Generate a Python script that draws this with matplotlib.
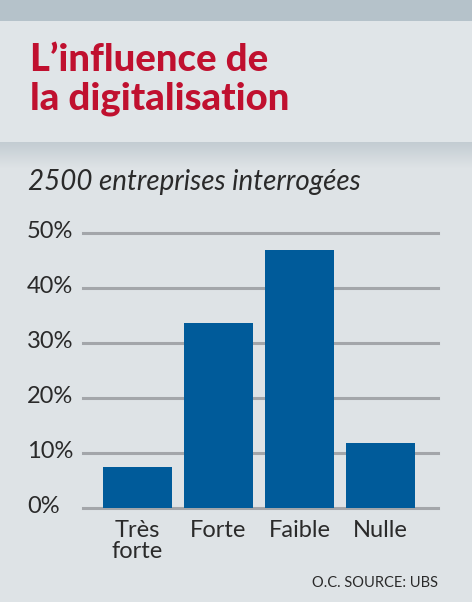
import matplotlib
matplotlib.use("Agg")
import matplotlib.pyplot as plt
import numpy as np
from matplotlib.patches import Rectangle
import matplotlib.transforms as mtransforms

categories = ["Très\nforte", "Forte", "Faible", "Nulle"]
values = [7.4, 33.6, 46.8, 11.8]
yticks = [0, 10, 20, 30, 40, 50]
ytick_labels = ["0%", "10%", "20%", "30%", "40%", "50%"]
title_lines = ["L’influence de", "la digitalisation"]
subtitle = "2500 entreprises interrogées"
source = "O.C. SOURCE: UBS"

W, H = 472, 602
BG = "#dee3e6"
BAR = "#005b9a"
RED = "#c0102f"
TXT = "#2a2a2a"

fig = plt.figure(figsize=(W / 100, H / 100), dpi=100)
fig.patch.set_facecolor(BG)

def fy(px):
    return 1 - px / H

# top strip and title box
fig.patches.append(Rectangle((0, fy(21)), 1, 21 / H, transform=fig.transFigure,
                             facecolor="#b5c2ca", edgecolor="none", zorder=0))
fig.patches.append(Rectangle((0, fy(142)), 1, (142 - 21) / H, transform=fig.transFigure,
                             facecolor="#e0e5e8", edgecolor="none", zorder=0))
# shadow gradient below title box
gax = fig.add_axes([0, fy(168), 1, 26 / H])
grad = np.linspace(0, 1, 64).reshape(-1, 1)
c0 = np.array([0xc3, 0xcc, 0xd2]) / 255
c1 = np.array([0xde, 0xe3, 0xe6]) / 255
img = c0[None, None, :] * (1 - grad[:, :, None]) + c1[None, None, :] * grad[:, :, None]
gax.imshow(img, aspect="auto", extent=[0, 1, 0, 1])
gax.axis("off")

for line, base in zip(title_lines, [71, 110]):
    fig.text(30 / W, fy(base), line, color=RED, fontsize=27.5, fontweight="black",
             family="Lato", ha="left", va="baseline")
fig.text(28 / W, fy(190), subtitle, color=TXT, fontsize=20, style="italic",
         family="Lato", fontweight="normal", ha="left", va="baseline")

ax = fig.add_axes([83 / W, fy(507.7), (438 - 83) / W, (507.7 - 232.7) / H])
ax.set_facecolor("none")
x = np.arange(len(categories))
ax.bar(x, values, width=0.852, color=BAR, zorder=3)
ax.set_xlim(-0.673, 3.71)
ax.set_ylim(0, 50)
ax.set_yticks(yticks)
ax.set_yticklabels(ytick_labels)
ax.yaxis.grid(True, color="#a3a6aa", linewidth=2.2, zorder=1)
for ln in ax.get_ygridlines():
    ln.set_clip_on(False)
for s in ax.spines.values():
    s.set_visible(False)
ax.tick_params(axis="y", length=0, pad=56 / 100 * 72, labelsize=17, labelcolor=TXT)
for lab in ax.get_yticklabels():
    lab.set_horizontalalignment("left")
    lab.set_family("Lato")
    lab.set_fontweight("normal")
    lab.set_transform(lab.get_transform() + mtransforms.ScaledTranslation(0, 3 / 100, fig.dpi_scale_trans))
ax.set_xticks(x)
ax.set_xticklabels(categories, fontsize=17, color=TXT, family="Lato", fontweight="normal",
                   linespacing=1.0)
ax.tick_params(axis="x", length=0, pad=9)

fig.text(438 / W, fy(587), source, color=TXT, fontsize=10.5, family="Lato",
         ha="right", va="baseline")

fig.savefig("out.png", dpi=100, facecolor=fig.get_facecolor())
